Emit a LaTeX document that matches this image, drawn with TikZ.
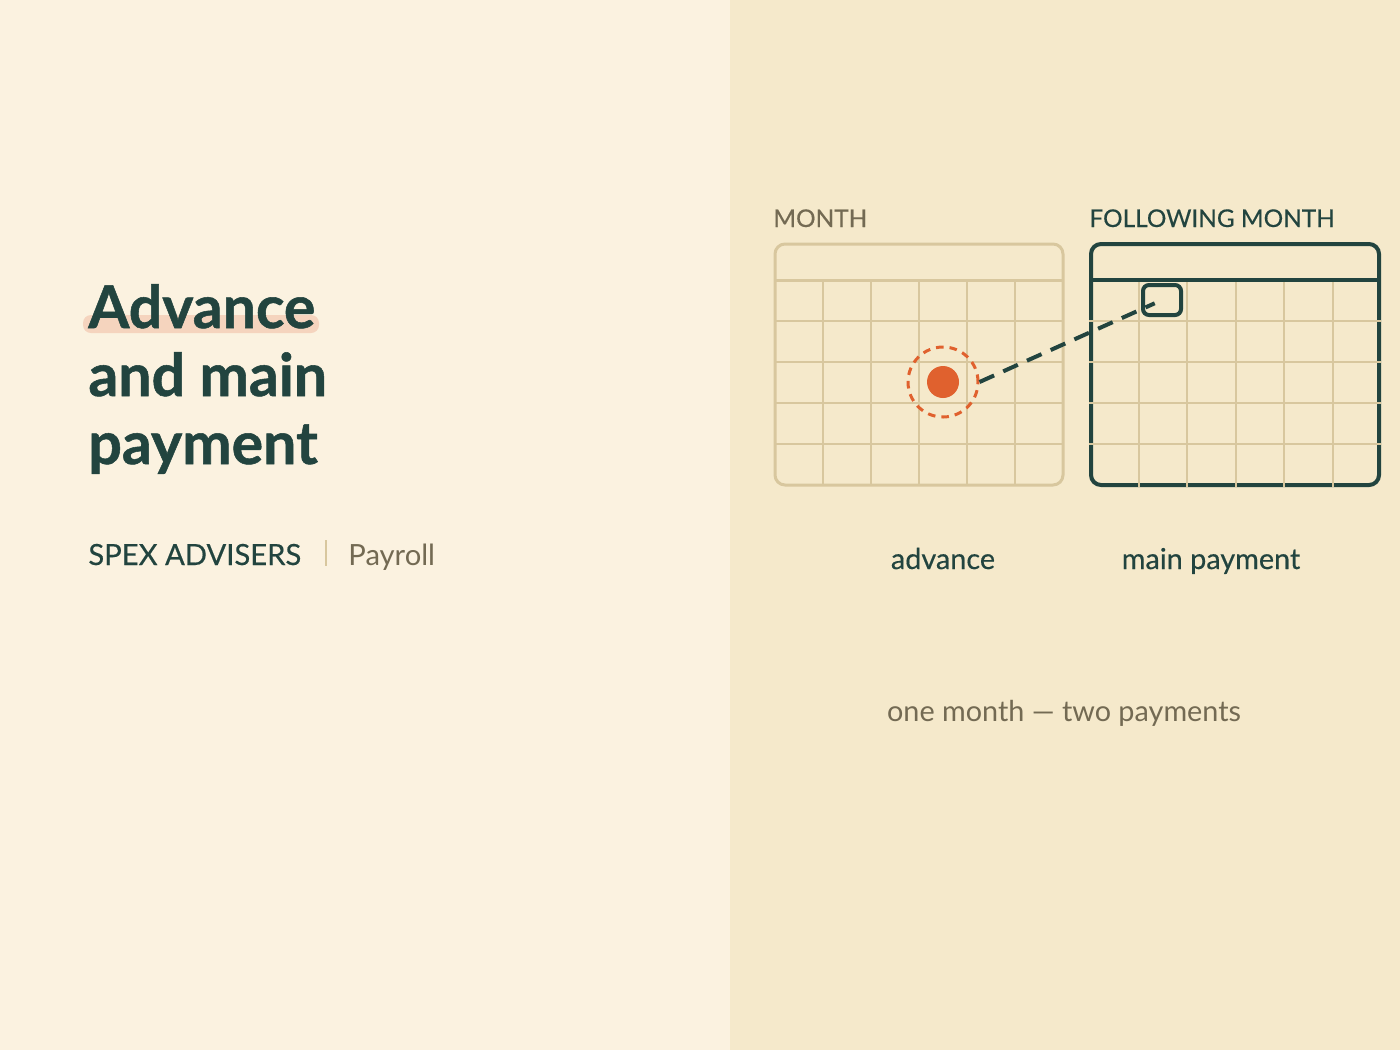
\documentclass[tikz,border=0pt]{standalone}
\usepackage{fontspec}
\setmainfont{Lato}
\newfontfamily\heavyfont[FakeBold=0.9]{Lato}
\newfontfamily\midfont[FakeBold=0.4]{Lato}
\usetikzlibrary{positioning}
\definecolor{paper}{HTML}{FBF2E0}
\definecolor{sand}{HTML}{F5E9CB}
\definecolor{pine}{HTML}{22443F}
\definecolor{rust}{HTML}{E0612E}
\definecolor{wheat}{HTML}{D8C79E}
\definecolor{taupe}{HTML}{736A53}
\definecolor{blush}{HTML}{F5D4BE}
\tikzset{
	headline/.style={anchor=base west, text=pine, inner sep=0pt, font=\fontsize{29.5}{34}\selectfont\heavyfont\bfseries},
	tag/.style={anchor=base west, inner sep=0pt, font=\fontsize{14.6}{17}\selectfont},
	month/.style={anchor=base west, inner sep=0pt, font=\fontsize{12.2}{15}\selectfont\midfont},
	caption/.style={anchor=base, inner sep=0pt, font=\fontsize{14.4}{17}\selectfont},
	gridline/.style={draw=wheat, line width=1pt},
	ring/.style={circle, draw=rust, line width=1.5pt, dash pattern=on 3.8pt off 3pt, minimum size=35pt, inner sep=0pt},
	dot/.style={circle, fill=rust, minimum size=16pt, inner sep=0pt},
	slot/.style={draw=pine, line width=2pt, rounded corners=3pt, minimum width=19pt, minimum height=15pt, inner sep=0pt},
	link/.style={draw=pine, line width=2pt, dash pattern=on 8pt off 5pt, shorten >=4pt}
}
\begin{document}
\begin{tikzpicture}[x=0.5pt, y=-0.5pt]
		\useasboundingbox (0,0) rectangle (1400,1050);
		\fill[paper] (0,0) rectangle (730,1050);
		\fill[sand] (730,0) rectangle (1400,1050);
		
		% title block
		\fill[blush, rounded corners=4pt] (83,315) rectangle (319,333);
		\node[headline] (t1) at (88,328) {Advance};
		\node[headline] (t2) at (88,396) {and main};
		\node[headline] (t3) at (88,464) {payment};
		\node[tag, text=pine, font=\fontsize{14.6}{17}\selectfont\midfont] (brand) at (88,565) {SPEX ADVISERS};
		\draw[wheat, line width=1pt] (326,540) -- (326,566);
		\node[tag, text=taupe] (topic) at (348,565) {Payroll};
		
		% month
		\node[month, text=taupe] (m1) at (773,227) {MONTH};
		\draw[wheat, line width=1.5pt, rounded corners=5pt] (775,244) rectangle (1063,485);
		\draw[wheat, line width=1.5pt] (775,280) -- (1063,280);
		\foreach \i in {1,...,5}
			\draw[gridline] ({775+\i*48},280) -- ({775+\i*48},485);
		\foreach \j in {1,...,4}
			\draw[gridline] (775,{280+\j*41}) -- (1063,{280+\j*41});
		
		% following month
		\node[month, text=pine] (m2) at (1089,227) {FOLLOWING MONTH};
		\draw[pine, line width=2pt, rounded corners=5pt] (1091,244) rectangle (1379,485);
		\draw[pine, line width=2pt] (1091,280) -- (1379,280);
		\foreach \i in {1,...,5}
			\draw[gridline] ({1090+\i*48.5},282) -- ({1090+\i*48.5},487);
		\foreach \j in {1,...,4}
			\draw[gridline] (1089,{280+\j*41}) -- (1381,{280+\j*41});
		
		\node[dot] (pay) at (943,382) {};
		\node[ring] (ring) at (943,382) {};
		\node[slot] (slot) at (1162,300) {};
		\draw[link] (ring.east) -- (slot.center);
		
		\node[caption, text=pine, font=\fontsize{14.4}{17}\selectfont\midfont] (c1) at (943,569) {advance};
		\node[caption, text=pine, font=\fontsize{14.4}{17}\selectfont\midfont] (c2) at (1211,569) {main payment};
		\node[caption, text=taupe] (note) at (1064,721) {one month — two payments};
	\end{tikzpicture}
\end{document}
